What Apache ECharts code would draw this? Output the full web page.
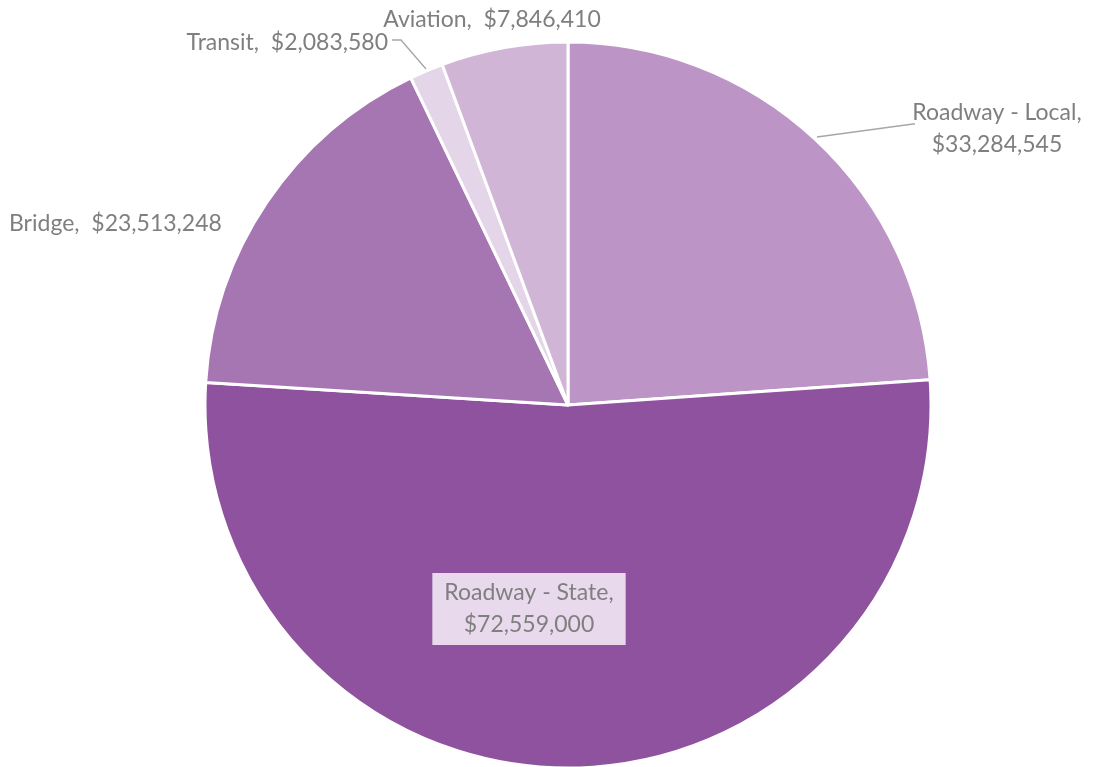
<!DOCTYPE html>
<html>
<head>
<meta charset="utf-8">
<script src="https://cdn.jsdelivr.net/npm/echarts@6/dist/echarts.min.js"></script>
<style>
  html, body { margin: 0; padding: 0; background: #ffffff; }
  #chart { width: 1102px; height: 767px; }
</style>
</head>
<body>
<div id="chart"></div>
<script>
// Funding by program
const categories = ['Roadway - Local', 'Roadway - State', 'Bridge', 'Transit', 'Aviation'];
const amounts = [33284545, 72559000, 23513248, 2083580, 7846410];
const sliceColors = ['#BC95C6', '#8F529E', '#A676B3', '#E5D5E9', '#D0B5D7'];

// label placement: [x, y, align, leader line points or null]
const labelSpots = [
  [997, 129, 'center', [[817, 137], [913, 124], [915, 124]]],
  [529, 609, 'center', null],
  [9, 224, 'left', null],
  [388, 43, 'right', [[426, 69], [401, 40], [392, 40]]],
  [492, 20, 'center', null]
];

const money = v => '$' + v.toLocaleString('en-US');

const chart = echarts.init(document.getElementById('chart'), null, { renderer: 'canvas' });

chart.setOption({
  animation: false,
  backgroundColor: '#ffffff',
  series: [{
    type: 'pie',
    center: [568, 405],
    radius: 363,
    startAngle: 90,
    clockwise: true,
    avoidLabelOverlap: false,
    itemStyle: { borderColor: '#ffffff', borderWidth: 3 },
    label: {
      show: true,
      fontFamily: 'Lato',
      fontSize: 23,
      color: '#7F7F7F',
      lineHeight: 32,
      formatter: p => (p.dataIndex <= 1)
        ? p.name + ',\n' + money(p.value)
        : p.name + ',  ' + money(p.value)
    },
    labelLine: { show: true, lineStyle: { color: '#A6A6A6', width: 1.3 }, smooth: false },
    labelLayout: p => {
      const s = labelSpots[p.dataIndex];
      const out = { x: s[0], y: s[1], align: s[2], verticalAlign: 'middle' };
      if (s[3]) out.labelLinePoints = s[3];
      return out;
    },
    data: categories.map((c, i) => ({
      name: c,
      value: amounts[i],
      itemStyle: { color: sliceColors[i] },
      labelLine: { show: !!labelSpots[i][3] },
      label: i === 1 ? {
        backgroundColor: '#E8DAEC',
        padding: [4, 12, 4, 12]
      } : {}
    }))
  }]
});
</script>
</body>
</html>
